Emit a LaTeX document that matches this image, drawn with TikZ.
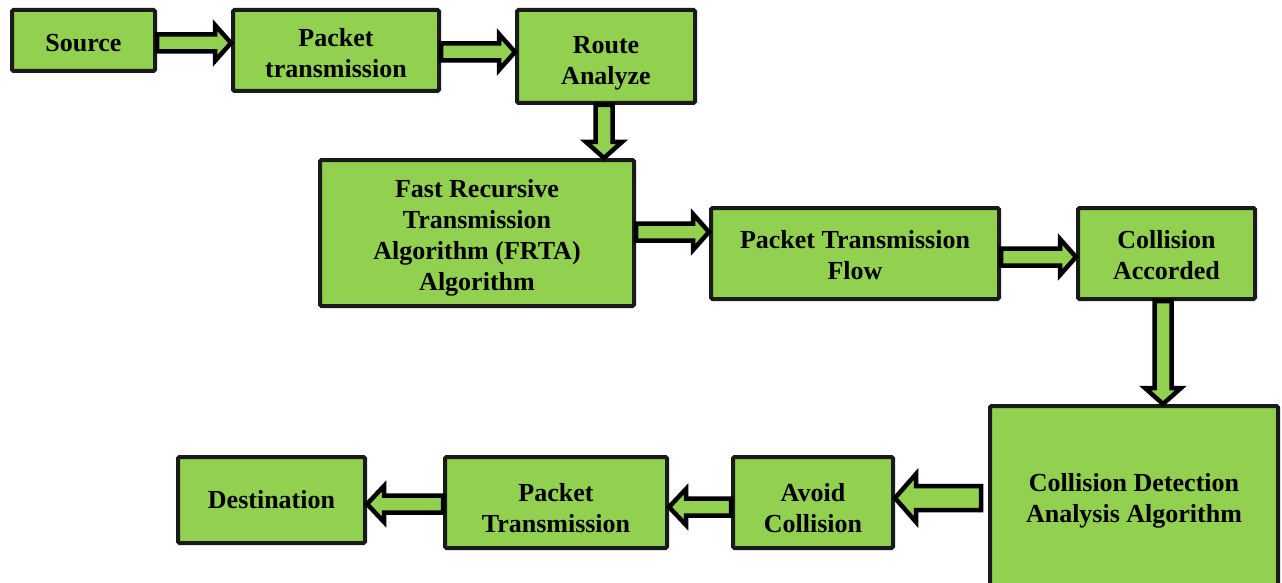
\documentclass[tikz,border=0pt]{standalone}
\usepackage{fontspec}
\setmainfont{Liberation Serif}
\usetikzlibrary{calc}
\definecolor{boxgreen}{HTML}{92D050}
\definecolor{boxline}{HTML}{1A1A1A}
\tikzset{
  box/.style={draw=boxline, fill=boxgreen, line width=4pt, rounded corners=1.5pt, inner sep=0pt},
  boxtext/.style={align=center, inner sep=0pt, font=\fontsize{26}{31}\selectfont\bfseries},
  barrowstyle/.style={draw=black, fill=boxgreen, line width=4.5pt, line join=miter, miter limit=20}
}
\newcommand{\bw}{8.5pt}
\newcommand{\bhw}{18pt}
\newcommand{\bhl}{16pt}
\newcommand{\blockarrow}[2]{%
  \path (#1) coordinate (ba-a) (#2) coordinate (ba-b);
  \path ($(ba-b)!\bhl!(ba-a)$) coordinate (ba-h);
  \draw[barrowstyle] ($(ba-a)!\bw!90:(ba-b)$) -- ($(ba-h)!\bw!90:(ba-b)$)
    -- ($(ba-h)!\bhw!90:(ba-b)$) -- (ba-b) -- ($(ba-h)!\bhw!-90:(ba-b)$)
    -- ($(ba-h)!\bw!-90:(ba-b)$) -- ($(ba-a)!\bw!-90:(ba-b)$) -- cycle;
}
\begin{document}
\begin{tikzpicture}[x=1pt,y=-1pt]
\useasboundingbox (0,0) rectangle (1282,583);
\begin{scope}
\clip (0,0) rectangle (1282,583);
\node[box, minimum width=143pt, minimum height=61pt,
  label={[boxtext,yshift=-3pt]center:Source}] (src) at (83.5,40.5) {};
\node[box, minimum width=206pt, minimum height=81pt,
  label={[boxtext,yshift=-3pt]center:{Packet\\transmission}}] (pt1) at (336,50.5) {};
\node[box, minimum width=178pt, minimum height=93pt,
  label={[boxtext,yshift=-6.5pt]center:{Route\\Analyze}}] (ra) at (606,56.5) {};
\node[box, minimum width=314pt, minimum height=146pt,
  label={[boxtext,yshift=-4.5pt]center:{Fast Recursive\\Transmission\\Algorithm (FRTA)\\Algorithm}}] (frta) at (477,233) {};
\node[box, minimum width=288pt, minimum height=91pt,
  label={[boxtext,yshift=-2pt]center:{Packet Transmission\\Flow}}] (ptf) at (855,253.5) {};
\node[box, minimum width=177pt, minimum height=91pt,
  label={[boxtext,yshift=-2pt]center:{Collision\\Accorded}}] (ca) at (1166.5,253.5) {};
\node[box, minimum width=288pt, minimum height=184pt,
  label={[boxtext,yshift=-3pt]center:{Collision Detection\\Analysis Algorithm}}] (cdaa) at (1134,498) {};
\node[box, minimum width=160pt, minimum height=91pt,
  label={[boxtext,yshift=-5.5pt]center:{Avoid\\Collision}}] (avoid) at (813,502.5) {};
\node[box, minimum width=222pt, minimum height=91pt,
  label={[boxtext,yshift=-5.5pt]center:{Packet\\Transmission}}] (pt2) at (556,502.5) {};
\node[box, minimum width=187pt, minimum height=86pt,
  label={[boxtext]center:Destination}] (dest) at (271.5,500) {};

\coordinate (y1) at (0,43);
\coordinate (y2) at (0,52);
\coordinate (x3) at (604,0);
\coordinate (y4) at (0,232);
\coordinate (y5) at (0,257);
\coordinate (x6) at (1163,0);
\coordinate (y7) at (0,498);
\coordinate (y8) at (0,507);
\coordinate (y9) at (0,504);

\blockarrow{src.east |- y1}{pt1.west |- y1}
\blockarrow{pt1.east |- y2}{ra.west |- y2}
\blockarrow{x3 |- ra.south}{x3 |- frta.north}
\blockarrow{frta.east |- y4}{ptf.west |- y4}
\blockarrow{ptf.east |- y5}{ca.west |- y5}
\blockarrow{x6 |- ca.south}{x6 |- cdaa.north}
\renewcommand{\bw}{12pt}\renewcommand{\bhw}{24pt}\renewcommand{\bhl}{21pt}
\blockarrow{$(cdaa.west |- y7)+(-7,0)$}{avoid.east |- y7}
\renewcommand{\bw}{8.5pt}\renewcommand{\bhw}{18pt}\renewcommand{\bhl}{17pt}
\blockarrow{avoid.west |- y8}{pt2.east |- y8}
\blockarrow{pt2.west |- y9}{dest.east |- y9}
\end{scope}
\end{tikzpicture}
\end{document}
